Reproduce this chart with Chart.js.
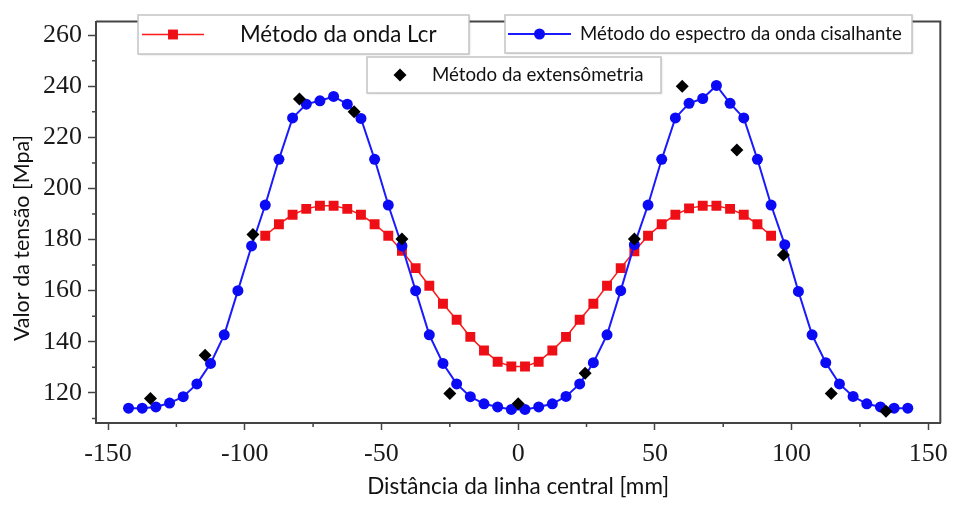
<!DOCTYPE html>
<html>
<head>
<meta charset="utf-8">
<script src="https://cdn.jsdelivr.net/npm/chart.js@4.4.0/dist/chart.umd.min.js"></script>
<style>
  html, body { margin: 0; padding: 0; background: #fff; }
  #wrap { width: 957px; height: 505px; }
</style>
</head>
<body>
<div id="wrap"><canvas id="stressChart" width="957" height="505"></canvas></div>
<script>
// distance from the centre line [mm] and stress [MPa]
const redX = [-92.5, -87.5, -82.5, -77.5, -72.5, -67.5, -62.5, -57.5, -52.5, -47.5,
  -42.5, -37.5, -32.5, -27.5, -22.5, -17.5, -12.5, -7.5, -2.5, 2.5, 7.5, 12.5, 17.5,
  22.5, 27.5, 32.5, 37.5, 42.5, 47.5, 52.5, 57.5, 62.5, 67.5, 72.5, 77.5, 82.5, 87.5, 92.5];
const redY = [181.5, 186, 189.7, 192, 193.2, 193.2, 192, 189.7, 186, 181.5,
  175.6, 168.8, 161.9, 154.9, 148.6, 141.9, 136.6, 132.2, 130.3, 130.3, 132.2, 136.6, 141.9,
  148.6, 154.9, 161.9, 168.8, 175.4, 181.5, 186, 189.7, 192.2, 193.2, 193.2, 192, 189.7, 186, 181.5];

const blueX = [-142.5, -137.5, -132.5, -127.5, -122.5, -117.5, -112.5, -107.5, -102.5, -97.5,
  -92.5, -87.5, -82.5, -77.5, -72.5, -67.5, -62.5, -57.5, -52.5, -47.5, -42.5, -37.5, -32.5,
  -27.5, -22.5, -17.5, -12.5, -7.5, -2.5, 2.5, 7.5, 12.5, 17.5, 22.5, 27.5, 32.5, 37.5, 42.5,
  47.5, 52.5, 57.5, 62.5, 67.5, 72.5, 77.5, 82.5, 87.5, 92.5, 97.5, 102.5, 107.5, 112.5,
  117.5, 122.5, 127.5, 132.5, 137.5, 142.5];
const blueY = [114, 114, 114.5, 116, 118.5, 123.5, 131.5, 142.7, 160, 177.5,
  193.5, 211.4, 227.6, 233, 234.3, 236, 233, 227.4, 211.4, 193.5, 177.5, 160, 142.7,
  131.5, 123.5, 118.5, 115.7, 114.5, 113.5, 113.5, 114.5, 115.7, 118.6, 123.5, 131.8, 142.7, 160, 178,
  193.5, 211.4, 227.6, 233.3, 235.2, 240.3, 233.3, 227.6, 211.4, 193.5, 178, 159.7, 142.7, 131.8,
  123.5, 118.6, 115.7, 114.5, 114, 114];

const blackX = [-134.5, -114.5, -97, -80, -60, -42.5, -25, 0, 24.5, 42.5, 60, 80, 97, 114.5, 134.5];
const blackY = [117.8, 134.7, 182, 235, 230, 180.2, 119.7, 115.7, 127.7, 180.2, 240, 215, 174, 119.7, 112.8];

const seriesNames = ['Método da onda Lcr', 'Método do espectro da onda cisalhante', 'Método da extensômetria'];

const xTicks = [-150, -100, -50, 0, 50, 100, 150];
const xMinorTicks = [-125, -75, -25, 25, 75, 125];
const yTicks = [120, 140, 160, 180, 200, 220, 240, 260];
const yMinorTicks = [110, 130, 150, 170, 190, 210, 230, 250];

const xTitle = 'Distância da linha central [mm]';
const yTitle = 'Valor da tensão [Mpa]';

const toPoints = (xs, ys) => xs.map((x, i) => ({ x: x, y: ys[i] }));

// boxed legends sitting inside the plot
const legendLayout = [
  { ds: 0, x: 138, y: 15, w: 331, h: 39, sx1: 142, sx2: 204, tx: 240, font: '22.3px Lato' },
  { ds: 1, x: 505, y: 15, w: 407, h: 38, sx1: 508, sx2: 571, tx: 580, font: '18.6px Lato' },
  { ds: 2, x: 367, y: 57, w: 294, h: 36, sx1: null, sx2: null, tx: 432, font: '18.7px Lato' }
];

const framePlugin = {
  id: 'frame',
  afterDraw(chart) {
    const ctx = chart.ctx;
    const a = chart.chartArea;
    const xs = chart.scales.x, ys = chart.scales.y;
    ctx.save();
    ctx.strokeStyle = '#444';
    ctx.lineWidth = 2;
    ctx.beginPath();
    ctx.moveTo(a.left, a.top); ctx.lineTo(a.right, a.top); ctx.lineTo(a.right, a.bottom);
    ctx.stroke();

    // minor ticks
    ctx.lineWidth = 1.5;
    ctx.beginPath();
    xMinorTicks.forEach(v => {
      const px = xs.getPixelForValue(v);
      ctx.moveTo(px, a.bottom); ctx.lineTo(px, a.bottom + 4);
    });
    yMinorTicks.forEach(v => {
      const py = ys.getPixelForValue(v);
      ctx.moveTo(a.left - 4, py); ctx.lineTo(a.left, py);
    });
    ctx.stroke();

    // y title
    ctx.fillStyle = '#111';
    ctx.font = '21.5px Lato';
    ctx.textAlign = 'center';
    ctx.textBaseline = 'middle';
    ctx.translate(22, 238);
    ctx.rotate(-Math.PI / 2);
    ctx.fillText(yTitle, 0, 0);
    ctx.restore();

    // legends
    legendLayout.forEach(L => {
      const ds = chart.data.datasets[L.ds];
      const cy = L.y + L.h / 2;
      ctx.save();
      ctx.shadowColor = 'rgba(0,0,0,0.15)';
      ctx.shadowBlur = 2;
      ctx.shadowOffsetX = 1;
      ctx.shadowOffsetY = 1;
      ctx.fillStyle = '#fff';
      ctx.fillRect(L.x, L.y, L.w, L.h);
      ctx.restore();
      ctx.save();
      ctx.strokeStyle = '#c4c4c4';
      ctx.lineWidth = 1.5;
      ctx.strokeRect(L.x, L.y, L.w, L.h);
      let mx = L.tx - 32;
      if (L.sx1 !== null) {
        ctx.strokeStyle = ds.borderColor;
        ctx.lineWidth = ds.borderWidth;
        ctx.beginPath();
        ctx.moveTo(L.sx1, cy); ctx.lineTo(L.sx2, cy);
        ctx.stroke();
        mx = (L.sx1 + L.sx2) / 2;
      }
      ctx.fillStyle = ds.backgroundColor;
      Chart.helpers.drawPoint(ctx, {
        pointStyle: ds.pointStyle, radius: ds.pointRadius, rotation: 0, borderWidth: 0
      }, mx, cy);
      ctx.fillStyle = '#111';
      ctx.font = L.font;
      ctx.textAlign = 'left';
      ctx.textBaseline = 'middle';
      ctx.fillText(ds.label, L.tx, cy);
      ctx.restore();
    });
  }
};

const ctx = document.getElementById('stressChart').getContext('2d');
new Chart(ctx, {
  type: 'scatter',
  data: {
    datasets: [{
      label: seriesNames[0],
      data: toPoints(redX, redY),
      showLine: true,
      borderColor: '#ff1a1a',
      borderWidth: 1.5,
      backgroundColor: '#ee0f16',
      pointStyle: 'rect',
      pointRadius: 7,
      pointBorderWidth: 0,
      order: 2
    }, {
      label: seriesNames[1],
      data: toPoints(blueX, blueY),
      showLine: true,
      borderColor: '#1a1aff',
      borderWidth: 2,
      backgroundColor: '#0a0af5',
      pointStyle: 'circle',
      pointRadius: 5.5,
      pointBorderWidth: 0,
      order: 1
    }, {
      label: seriesNames[2],
      data: toPoints(blackX, blackY),
      showLine: false,
      borderColor: '#000',
      backgroundColor: '#000',
      pointStyle: 'rectRot',
      pointRadius: 6.5,
      pointBorderWidth: 0,
      order: 0
    }]
  },
  options: {
    responsive: false,
    animation: false,
    layout: { padding: { left: 0, top: 9, right: 14, bottom: 0 } },
    plugins: { legend: { display: false }, tooltip: { enabled: false } },
    scales: {
      x: {
        type: 'linear',
        min: -154.4,
        max: 154.4,
        afterBuildTicks: s => { s.ticks = xTicks.map(v => ({ value: v })); },
        afterFit: s => { s.height = 82; },
        grid: { drawOnChartArea: false, tickLength: 7, tickWidth: 1.5, tickColor: '#444' },
        border: { color: '#444', width: 2 },
        ticks: { color: '#1a1a1a', font: { family: 'Liberation Serif', size: 26 }, padding: 9, maxRotation: 0 },
        title: { display: true, text: xTitle, color: '#111', font: { family: 'Lato', size: 22.5 }, padding: { top: 0, bottom: 5 } }
      },
      y: {
        type: 'linear',
        min: 108.2,
        max: 265.3,
        afterBuildTicks: s => { s.ticks = yTicks.map(v => ({ value: v })); },
        afterFit: s => { s.width = 96; },
        grid: { drawOnChartArea: false, tickLength: 8, tickWidth: 1.5, tickColor: '#444' },
        border: { color: '#444', width: 2 },
        ticks: { color: '#1a1a1a', font: { family: 'Liberation Serif', size: 26 }, padding: 6 }
      }
    }
  },
  plugins: [framePlugin]
});
</script>
</body>
</html>
